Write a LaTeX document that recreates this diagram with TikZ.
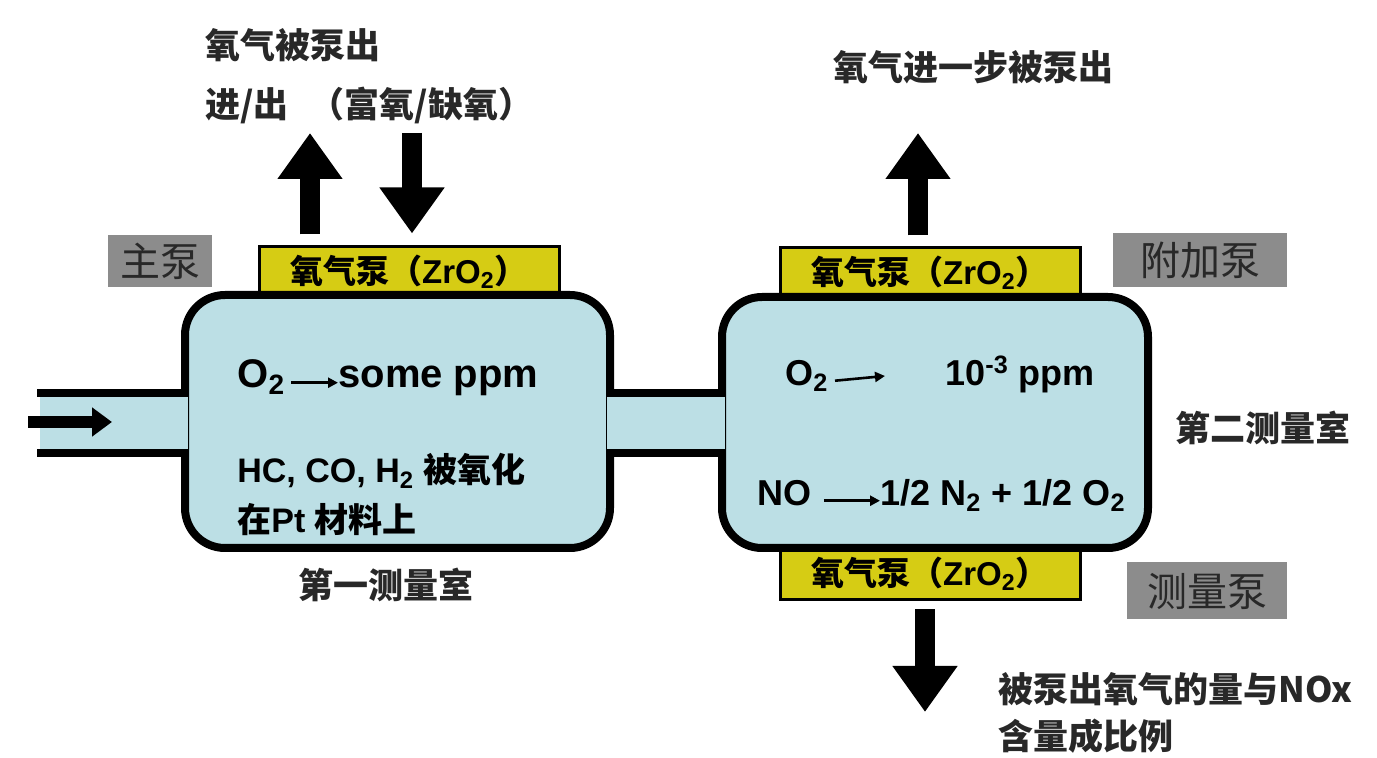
\documentclass[tikz,border=0pt]{standalone}
\usepackage{fontspec}
\setmainfont{Liberation Sans}
\newfontfamily\cjk{Noto Sans CJK SC}
\usetikzlibrary{arrows.meta,positioning}

\definecolor{chamberblue}{RGB}{188,223,229}
\definecolor{pumpyellow}{RGB}{214,204,20}
\definecolor{labelgray}{RGB}{140,140,140}
\definecolor{textgray}{RGB}{40,40,40}

\newcommand{\zh}[1]{{\cjk #1}}
\newcommand{\sub}[1]{\textsubscript{#1}}

\begin{document}
\begin{tikzpicture}[
  x=0.5pt, y=-0.5pt,
  pumpbox/.style={
    draw=black, line width=1.5pt, fill=pumpyellow, inner sep=0pt,
    minimum width=150pt, minimum height=25pt,
    font=\bfseries\fontsize{16.5}{19}\selectfont
  },
  tagbox/.style={
    fill=labelgray, text=textgray, inner sep=0pt,
    font=\fontsize{20}{22}\selectfont\cjk
  },
  note/.style={
    text=textgray, inner sep=0pt, anchor=west,
    font=\bfseries\fontsize{17.5}{23.5}\selectfont\cjk
  },
  chem/.style={inner sep=0pt, anchor=base west, font=\bfseries\fontsize{18}{21}\selectfont},
  bigchem/.style={chem, font=\bfseries\fontsize{20}{24}\selectfont},
  wall/.style={line width=4pt},
  bigarrow/.style={line width=10pt, -{Triangle[width=31pt,length=23pt]}},
  inarrow/.style={line width=6pt, -{Triangle[width=14pt,length=10pt]}},
  smallarrow/.style={line width=1.3pt, -{Triangle[width=5pt,length=5pt]}}
]
\useasboundingbox (0,0) rectangle (1377,758);

% pumps
\node[pumpbox] (pumpL) at (409,272) {\zh{氧气泵（}ZrO\sub{2}\zh{）}};
\node[pumpbox] (pumpR) at (930,273) {\zh{氧气泵（}ZrO\sub{2}\zh{）}};
\node[pumpbox, minimum height=26pt] (pumpM) at (930,574) {\zh{氧气泵（}ZrO\sub{2}\zh{）}};

% chambers
\draw[wall, fill=chamberblue, rounded corners=20pt] (185,295) rectangle (610,548);
\draw[wall, fill=chamberblue, rounded corners=20pt] (722,297) rectangle (1148,548);
\fill[chamberblue] (40,397) rectangle (188,449);
\fill[chamberblue] (607,397) rectangle (725,449);
\draw[wall] (37,393) -- (185,393);
\draw[wall] (37,453) -- (185,453);
\draw[wall] (610,393) -- (722,393);
\draw[wall] (610,453) -- (722,453);

% inlet
\coordinate (in0) at (28,422);
\coordinate (in1) at (112,422);
\draw[inarrow] (in0) -- (in1);

% labels
\node[tagbox, minimum width=52pt, minimum height=26pt] (mainpump) at (160,261) {主泵};
\node[tagbox, minimum width=87pt, minimum height=27pt] (auxpump) at (1200,260) {附加泵};
\node[tagbox, minimum width=80pt, minimum height=28.5pt] (measpump) at (1207,591) {测量泵};

% pump arrows
\coordinate (outL) at (310,133);
\coordinate (inL) at (412,133);
\coordinate (outR) at (918,133);
\coordinate (outM) at (925,712);
\draw[bigarrow, shorten <=5.5pt] (pumpL.north -| outL) -- (outL);
\draw[bigarrow, shorten >=6pt] (inL) -- (pumpL.north -| inL);
\draw[bigarrow, shorten <=5.5pt] (pumpR.north -| outR) -- (outR);
\draw[bigarrow, shorten <=4pt] (pumpM.south -| outM) -- (outM);

% texts
\node[note] (outtxt) at (205,45) {氧气被泵出};
\node[note] (inouttxt) at (205,105) {进/出\hspace{0.6em}（富氧/缺氧）};
\node[note] (furthertxt) at (833,67) {氧气进一步被泵出};
\node[note] (cham1) at (298,585) {第一测量室};
\node[note] (cham2) at (1175,428) {第二测量室};
\node[note, align=left] (proptxt) at (998,713) {被泵出氧气的量与NOx\\含量成比例};

% first chamber
\node[bigchem] (o2a) at (237,388) {O\sub{2}};
\node[bigchem] (ppma) at (338,388) {some ppm};
\draw[smallarrow, shorten <=3pt] (o2a.mid east) -- (ppma.mid west);
\node[chem, font=\bfseries\fontsize{17}{20}\selectfont] (hc) at (237,483) {HC, CO, H\sub{2} \zh{被氧化}};
\node[chem, font=\bfseries\fontsize{17}{20}\selectfont] (pt) at (237,533) {\zh{在}Pt \zh{材料上}};

% second chamber
\node[chem] (o2b) at (785,386) {O\sub{2}};
\node[chem] (ppmb) at (945,386) {10\textsuperscript{-3} ppm};
\coordinate (o2bend) at (885,376);
\draw[smallarrow] (o2b.mid east -| 835,0) -- (o2bend);
\node[chem] (no) at (757,506) {NO};
\node[chem] (n2) at (880,506) {1/2 N\sub{2} + 1/2 O\sub{2}};
\draw[smallarrow, shorten <=6pt] (no.mid east) -- (n2.mid west);
\end{tikzpicture}
\end{document}
